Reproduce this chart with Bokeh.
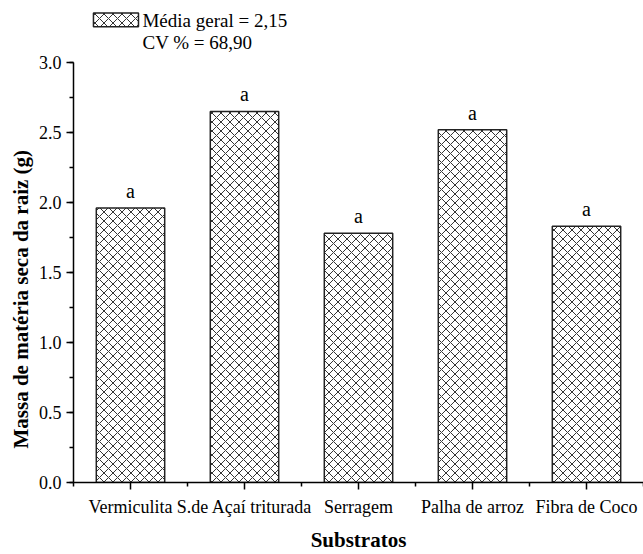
from bokeh.plotting import figure
from bokeh.models import Range1d, FixedTicker, NumeralTickFormatter, ColumnDataSource
from bokeh.core.properties import value
from bokeh.embed import file_html
from bokeh.resources import INLINE

categories = ["Vermiculita", "S.de Açaí triturada", "Serragem", "Palha de arroz", "Fibra de Coco"]
massa = [1.96, 2.65, 1.78, 2.52, 1.83]
letras = ["a", "a", "a", "a", "a"]
y_ticks = [0.0, 0.5, 1.0, 1.5, 2.0, 2.5, 3.0]
y_minor = [0.25 * i for i in range(13)]
legenda_media = "Média geral = 2,15"
legenda_cv = "CV % = 68,90"

xs = [i + 0.5 for i in range(len(categories))]
x_minor = [float(i) for i in range(len(categories) + 1)]

src = ColumnDataSource(dict(x=xs, top=massa, lab=letras))

FONT = "Liberation Serif"
BAR_STYLE = dict(fill_color="white", line_color="#222222", line_width=1.5,
                 hatch_pattern="x", hatch_scale=9, hatch_color="#333333", hatch_weight=1)

# frame spans the full height above the x axis; the y axis itself is bounded to 0..3
p = figure(width=643, height=554, output_backend="svg", toolbar_location=None,
           x_range=Range1d(0, 5.0), y_range=Range1d(0, 3.4426),
           min_border_left=73, min_border_right=0, min_border_top=0, min_border_bottom=64)
p.outline_line_color = None
p.xgrid.visible = False
p.ygrid.visible = False

bars = p.vbar(x="x", top="top", width=0.6, bottom=0, source=src, **BAR_STYLE)

p.text(x="x", y="top", text="lab", source=src, text_align="center",
       text_baseline="alphabetic", y_offset=-17,
       text_font=value(FONT), text_font_size="20px", text_color="black")

# legend (hatched swatch + two lines of text) above the plotted values
p.quad(left=[0.175], right=[0.57], top=[3.353], bottom=[3.255], **BAR_STYLE)
leg_src = ColumnDataSource(dict(x=[0.605, 0.605], y=[3.302, 3.141],
                                t=[legenda_media, legenda_cv]))
p.text(x="x", y="y", text="t", source=leg_src,
       text_baseline="middle", text_align="left",
       text_font=value(FONT), text_font_size="19px", text_color="black")

for ax in (p.xaxis[0], p.yaxis[0]):
    ax.axis_line_width = 1.5
    ax.axis_line_color = "black"
    ax.major_tick_line_width = 1.5
    ax.minor_tick_line_width = 1.5
    ax.major_tick_out = 7
    ax.major_tick_in = 0
    ax.minor_tick_out = 4
    ax.minor_tick_in = 0
    ax.major_label_text_font = FONT
    ax.major_label_text_font_size = "18px"
    ax.major_label_text_color = "black"
    ax.axis_label_text_font = FONT
    ax.axis_label_text_font_size = "21px"
    ax.axis_label_text_font_style = "bold"
    ax.axis_label_text_color = "black"

p.xaxis.ticker = FixedTicker(ticks=xs, minor_ticks=x_minor)
p.xaxis.major_label_overrides = {x: c for x, c in zip(xs, categories)}
p.xaxis.major_label_standoff = 7
p.xaxis.axis_label = "Substratos"
p.xaxis.axis_label_standoff = 8

p.yaxis.bounds = (y_ticks[0], y_ticks[-1])
p.yaxis.ticker = FixedTicker(ticks=y_ticks, minor_ticks=y_minor)
p.yaxis.formatter = NumeralTickFormatter(format="0.0")
p.yaxis.major_label_standoff = 5
p.yaxis.axis_label = "Massa de matéria seca da raiz (g)" + "\u00a0" * 22
p.yaxis.axis_label_standoff = 3

open("out.html", "w").write(file_html(p, INLINE))
